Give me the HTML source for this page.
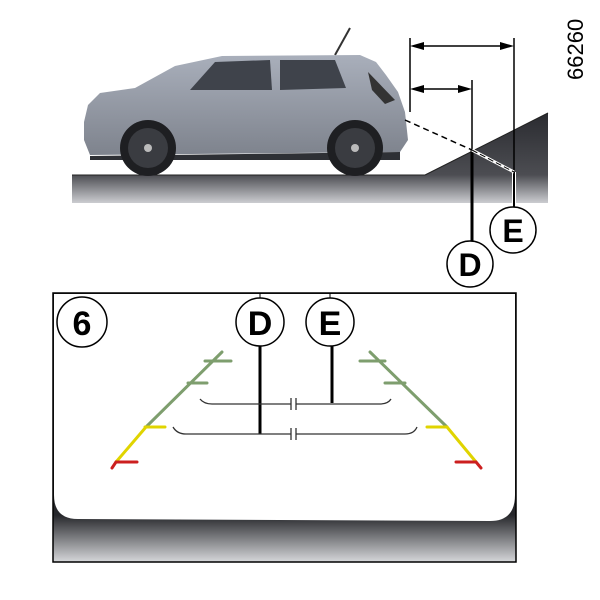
<!DOCTYPE html>
<html><head><style>body{margin:0;background:#fff}svg{display:block}</style></head><body>
<svg width="600" height="600" viewBox="0 0 600 600" xmlns="http://www.w3.org/2000/svg" font-family="Liberation Sans, sans-serif">
<defs>
<linearGradient id="g1" gradientUnits="userSpaceOnUse" x1="0" y1="113" x2="0" y2="204"><stop offset="0" stop-color="#2a2b30"/><stop offset="0.68" stop-color="#4c4d52"/><stop offset="1" stop-color="#d0d1d5"/></linearGradient>
<linearGradient id="g2" gradientUnits="userSpaceOnUse" x1="0" y1="515" x2="0" y2="562"><stop offset="0" stop-color="#26272b"/><stop offset="1" stop-color="#d6d7da"/></linearGradient>
<linearGradient id="car" x1="0" y1="0" x2="0" y2="1"><stop offset="0" stop-color="#a9afbb"/><stop offset="1" stop-color="#7e838d"/></linearGradient>
</defs>
<path d="M72 175 L425 175 L548 113 L548 203 L72 203 Z" fill="url(#g1)"/>
<line x1="72" y1="175" x2="425" y2="175" stroke="#222" stroke-width="1"/>
<line x1="425" y1="175" x2="548" y2="113" stroke="#222" stroke-width="1"/>
<line x1="335" y1="55" x2="350" y2="28" stroke="#333" stroke-width="2"/>
<path d="M84 122 L88 105 L100 93 L135 88 L175 66 L222 56 L360 55 L376 62 L386 75 L398 92 L405 112 L408 140 L400 152 L90 155 L84 140 Z" fill="url(#car)"/>
<path d="M190 90 L215 62 L270 60 L272 90 Z" fill="#3f434b"/>
<path d="M280 60 L335 60 L346 88 L280 90 Z" fill="#3f434b"/>
<path d="M368 72 L395 100 L385 104 L372 90 Z" fill="#333"/>
<path d="M90 156 L400 152 L400 160 L90 160 Z" fill="#2e3035"/>
<circle cx="148" cy="148" r="28" fill="#1e1f22"/><circle cx="148" cy="148" r="20" fill="#3a3c41"/><circle cx="148" cy="148" r="4" fill="#bbb"/>
<circle cx="355" cy="148" r="28" fill="#1e1f22"/><circle cx="355" cy="148" r="20" fill="#3a3c41"/><circle cx="355" cy="148" r="4" fill="#bbb"/>
<g stroke="#000" stroke-width="1.5" fill="none">
<line x1="410" y1="38" x2="410" y2="112"/>
<line x1="514" y1="38" x2="514" y2="172"/>
<line x1="415" y1="46" x2="509" y2="46"/>
<line x1="415" y1="89" x2="467" y2="89"/>
<line x1="472" y1="80" x2="472" y2="150"/>
<line x1="405" y1="120" x2="472" y2="150" stroke-dasharray="6,4"/>
</g>
<line x1="472" y1="150" x2="472" y2="242" stroke="#000" stroke-width="3"/>
<line x1="514" y1="172" x2="514" y2="208" stroke="#fff" stroke-width="4"/>
<line x1="514" y1="172" x2="514" y2="208" stroke="#000" stroke-width="2"/>
<line x1="472" y1="150" x2="514" y2="172" stroke="#fff" stroke-width="3"/>
<line x1="472" y1="150" x2="514" y2="172" stroke="#000" stroke-width="1" stroke-dasharray="6,3"/>
<g fill="#000">
<path d="M410 46 L424 42 L424 50 Z"/><path d="M514 46 L500 42 L500 50 Z"/>
<path d="M410 89 L424 85 L424 93 Z"/><path d="M472 89 L458 85 L458 93 Z"/>
</g>
<circle cx="513" cy="230" r="23" fill="#fff" stroke="#000" stroke-width="1.5"/>
<text x="513" y="242" font-size="32" font-weight="bold" text-anchor="middle">E</text>
<circle cx="470" cy="264" r="23" fill="#fff" stroke="#000" stroke-width="1.5"/>
<text x="470" y="276" font-size="32" font-weight="bold" text-anchor="middle">D</text>
<text transform="translate(583,80) rotate(-90)" font-size="22" fill="#000">66260</text>
<rect x="53" y="293" width="463" height="269" fill="url(#g2)" stroke="#000" stroke-width="1.5"/>
<path d="M54 294 L515 294 L515 495 Q515 521 490 521 L78 519 Q54 519 54 495 Z" fill="#fff"/>
<circle cx="82" cy="322" r="25" fill="#fff" stroke="#000" stroke-width="1.5"/>
<text x="82" y="335" font-size="34" font-weight="bold" text-anchor="middle">6</text>
<line x1="260" y1="293" x2="260" y2="300" stroke="#000"/>
<line x1="330" y1="293" x2="330" y2="300" stroke="#000"/>
<circle cx="260" cy="322" r="24" fill="#fff" stroke="#000" stroke-width="1.5"/>
<text x="260" y="335" font-size="34" font-weight="bold" text-anchor="middle">D</text>
<circle cx="330" cy="322" r="24" fill="#fff" stroke="#000" stroke-width="1.5"/>
<text x="330" y="335" font-size="34" font-weight="bold" text-anchor="middle">E</text>
<line x1="260" y1="346" x2="260" y2="434" stroke="#000" stroke-width="3"/>
<line x1="332" y1="346" x2="332" y2="403" stroke="#000" stroke-width="3"/>
<g stroke="#333" stroke-width="1.3" fill="none">
<path d="M200 399 Q204 404 212 404 L291 404 M296 404 L380 404 Q388 404 391 399"/>
<path d="M173 427 Q177 434 186 434 L291 434 M296 434 L405 434 Q414 434 417 427"/>
<path d="M291 398 V410 M296 398 V410 M291 428 V440 M296 428 V440"/>
</g>
<g stroke-width="3" fill="none" stroke-linecap="round">
<path d="M222 352 L146 427" stroke="#7e9e6e"/><path d="M205 361 L231 361 M188 383 L207 383" stroke="#7e9e6e"/>
<path d="M146 427 L116 462" stroke="#e0d400"/><path d="M145 427 L165 427" stroke="#e0d400"/>
<path d="M116 462 L112 468 M116 462 L137 462" stroke="#cc1f1f"/>
<path d="M370 352 L447 427" stroke="#7e9e6e"/><path d="M360 361 L385 361 M385 383 L405 383" stroke="#7e9e6e"/>
<path d="M447 427 L476 462" stroke="#e0d400"/><path d="M427 427 L447 427" stroke="#e0d400"/>
<path d="M476 462 L481 468 M456 462 L476 462" stroke="#cc1f1f"/>
</g>
</svg>
</body></html>
